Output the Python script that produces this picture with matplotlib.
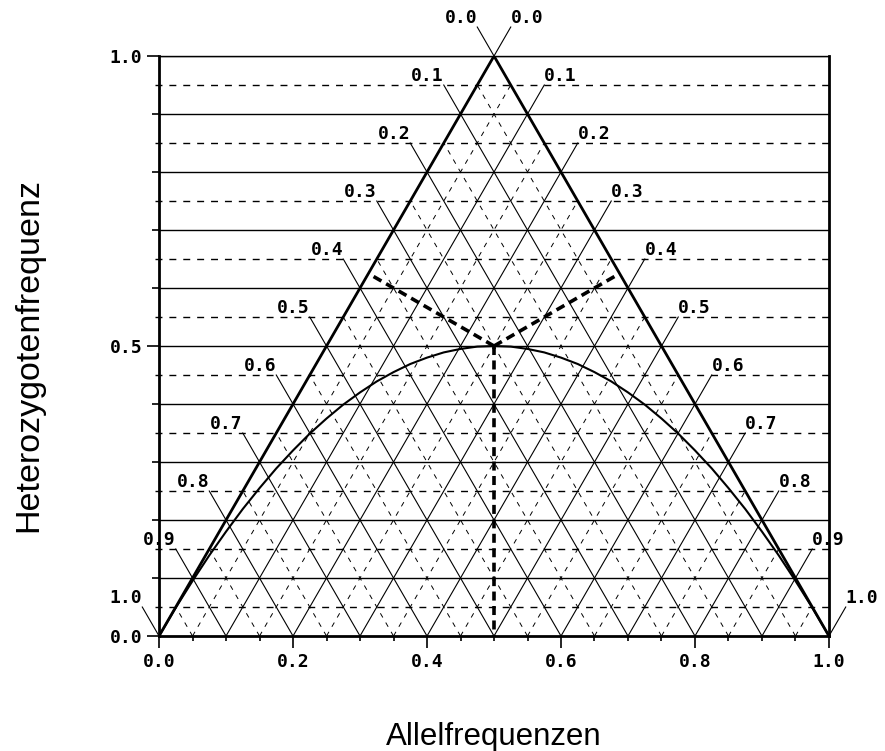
import numpy as np
import matplotlib.pyplot as plt

# Hardy-Weinberg parabola: heterozygote frequency per allele frequency
allele_p = [0.0, 0.025, 0.05, 0.075, 0.1, 0.125, 0.15, 0.175, 0.2, 0.225,
            0.25, 0.275, 0.3, 0.325, 0.35, 0.375, 0.4, 0.425, 0.45, 0.475,
            0.5, 0.525, 0.55, 0.575, 0.6, 0.625, 0.65, 0.675, 0.7, 0.725,
            0.75, 0.775, 0.8, 0.825, 0.85, 0.875, 0.9, 0.925, 0.95, 0.975, 1.0]
hetero_H = [0.0, 0.049, 0.095, 0.139, 0.18, 0.219, 0.255, 0.289, 0.32, 0.349,
            0.375, 0.399, 0.42, 0.439, 0.455, 0.469, 0.48, 0.489, 0.495, 0.499,
            0.5, 0.499, 0.495, 0.489, 0.48, 0.469, 0.455, 0.439, 0.42, 0.399,
            0.375, 0.349, 0.32, 0.289, 0.255, 0.219, 0.18, 0.139, 0.095, 0.049, 0.0]

# grid levels of the triangle and their labels
levels = [0.0, 0.1, 0.2, 0.3, 0.4, 0.5, 0.6, 0.7, 0.8, 0.9, 1.0]
half_levels = [0.05, 0.15, 0.25, 0.35, 0.45, 0.55, 0.65, 0.75, 0.85, 0.95]
level_labels = ["0.0", "0.1", "0.2", "0.3", "0.4", "0.5", "0.6", "0.7", "0.8", "0.9", "1.0"]

x_ticks = [0.0, 0.2, 0.4, 0.6, 0.8, 1.0]
x_ticklabels = ["0.0", "0.2", "0.4", "0.6", "0.8", "1.0"]
y_ticks = [0.0, 0.5, 1.0]
y_ticklabels = ["0.0", "0.5", "1.0"]

# example population
point_p = 0.5
point_H = 0.5

mono = "DejaVu Sans Mono"
lab_size = 13
ext = 0.05  # leader length above the triangle side

fig = plt.figure(figsize=(8.85, 7.51), dpi=100)
ax = fig.add_axes([0.1797, 0.1531, 0.757, 0.7723])
ax.set_xlim(0, 1)
ax.set_ylim(0, 1)

# horizontal grid
for y in levels[1:]:
    ax.axhline(y, color="black", lw=1.0, zorder=1)
for y in half_levels:
    ax.plot([-0.006, 1], [y, y], color="black", lw=1.0, ls=(0, (5, 5)),
            clip_on=False, zorder=1)

# lines parallel to the left side (right hand labels)
for c, lab in zip(levels, level_labels):
    y_end = 1 - c + ext
    ax.plot([c, c + y_end / 2], [0, y_end], color="black", lw=0.8,
            clip_on=False, zorder=2)
    ax.text(c + y_end / 2, y_end, lab, ha="left", va="bottom",
            family=mono, fontsize=lab_size, weight="bold")

# lines parallel to the right side (left hand labels)
for c, lab in zip(levels, level_labels[::-1]):
    y_end = c + ext
    ax.plot([c, c - y_end / 2], [0, y_end], color="black", lw=0.8,
            clip_on=False, zorder=2)
    ax.text(c - y_end / 2, y_end, lab, ha="right", va="bottom",
            family=mono, fontsize=lab_size, weight="bold")

# fine dashed lines inside the triangle
for c in half_levels:
    ax.plot([c, c + (1 - c) / 2], [0, 1 - c], color="black", lw=0.7,
            ls=(0, (5, 6)), zorder=2)
    ax.plot([c, c - c / 2], [0, c], color="black", lw=0.7,
            ls=(0, (5, 6)), zorder=2)

# triangle sides
ax.plot([0, 0.5, 1], [0, 1, 0], color="black", lw=2.0, zorder=3)

# Hardy-Weinberg curve
ax.plot(allele_p, hetero_H, color="black", lw=1.5, zorder=3)

# perpendiculars from the example point (equilateral in display space)
s = np.sqrt(3) / 2
px, py = point_p, point_H * s
for ux, uy in [(0.5, s), (-0.5, s)]:
    base_x = 0.0 if ux > 0 else 1.0
    t = (px - base_x) * ux + py * uy
    fx, fy = base_x + t * ux, t * uy / s
    ax.plot([point_p, fx], [point_H, fy], color="black", lw=2.6,
            ls=(0, (2.5, 1.5)), zorder=4)
ax.plot([point_p, point_p], [point_H, 0], color="black", lw=2.6,
        ls=(0, (2.5, 1.5)), zorder=4)

# axes
for side in ["left", "bottom", "right"]:
    ax.spines[side].set_linewidth(2.0)
ax.spines["top"].set_linewidth(1.0)

ax.set_xticks(x_ticks)
ax.set_xticklabels(x_ticklabels, family=mono, fontsize=lab_size, weight="bold")
ax.set_xticks(sorted(levels + half_levels), minor=True)
ax.set_yticks(y_ticks)
ax.set_yticklabels(y_ticklabels, family=mono, fontsize=lab_size, weight="bold")
ax.set_yticks(levels, minor=True)
ax.tick_params(axis="both", which="major", length=8.5, width=1.2, pad=3.5)
ax.tick_params(axis="x", which="minor", length=3.5, width=1.2)
ax.tick_params(axis="y", which="minor", length=5, width=1.2)

fig.text(494 / 885, 1 - 737 / 751, "Allelfrequenzen", ha="center", va="center",
         family="Liberation Sans", fontsize=22.5)
fig.text(29 / 885, 1 - 355 / 751, "Heterozygotenfrequenz", ha="center",
         va="center", rotation=90, family="Liberation Sans", fontsize=24.5)

fig.savefig("out.png", dpi=100)
